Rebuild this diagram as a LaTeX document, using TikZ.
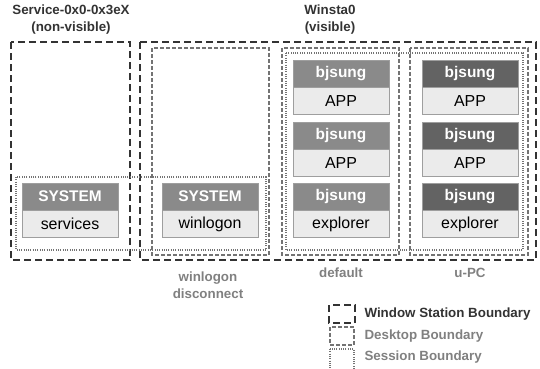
\documentclass[tikz,border=0pt]{standalone}
\usepackage{fontspec}
\setmainfont{Liberation Sans}
\usetikzlibrary{positioning}
\tikzset{
	wsta/.style={line width=0.7mm, color=black!80, dash pattern=on 7bp off 4bp},
	dsk/.style={line width=0.45mm, color=black!55, dash pattern=on 4bp off 2bp},
	sess/.style={line width=0.45mm, color=black!55, dash pattern=on 1bp off 1.3bp},
	hdr/.style={draw=black!38, fill=black!46, text=white, font=\bfseries\fontsize{15.5}{15.5}\selectfont, minimum width=96bp, minimum height=27bp, inner sep=0pt},
	hdrdark/.style={hdr, fill=black!61},
	proc/.style={draw=black!38, fill=black!8, text=black, font=\fontsize{16}{16}\selectfont, minimum width=96bp, minimum height=27bp, inner sep=0pt},
	lbl/.style={font=\bfseries\fontsize{13.4}{17}\selectfont, text=black!80, align=center},
	lblgray/.style={lbl, text=black!50}
}

\begin{document}
\begin{tikzpicture}[x=1bp, y=-1bp]
		%%%%% START %%%%%
		\useasboundingbox (0, 0) rectangle (540, 368);
		
		% window stations
		\draw[wsta] (11, 42) rectangle (130, 260);
		\draw[wsta] (140, 42) rectangle (536, 260);
		\node[lbl] (wsSvc) at (71, 20) {Service-0x0-0x3eX\\(non-visible)};
		\node[lbl] (wsWin) at (330, 20) {Winsta0\\(visible)};
		
		% desktops
		\draw[dsk] (152, 48) rectangle (269, 255);
		\draw[dsk] (282, 48) rectangle (399, 255);
		\draw[dsk] (410, 48) rectangle (528, 255);
		\node[lblgray] (dkLogon) at (208, 285) {winlogon\\disconnect};
		\node[lblgray] (dkDef) at (341, 273) {default};
		\node[lblgray] (dkUpc) at (470, 273) {u-PC};
		
		% sessions
		\draw[sess] (16, 177) rectangle (266, 250);
		\draw[sess] (286, 53) rectangle (523, 250);
		
		% session 0
		\node[hdr] (svcHead) at (70, 196.5) {SYSTEM};
		\node[proc, below=0pt of svcHead] (svcBody) {services};
		\node[hdr] (logHead) at (210, 196.5) {SYSTEM};
		\node[proc, below=0pt of logHead] (logBody) {winlogon};
		
		% session 1, default
		\node[hdr] (defHeadA) at (341, 73.5) {bjsung};
		\node[proc, below=0pt of defHeadA] (defBodyA) {APP};
		\node[hdr] (defHeadB) at (341, 135.5) {bjsung};
		\node[proc, below=0pt of defHeadB] (defBodyB) {APP};
		\node[hdr] (defHeadC) at (341, 196.5) {bjsung};
		\node[proc, below=0pt of defHeadC] (defBodyC) {explorer};
		
		% session 1, u-PC
		\node[hdrdark] (upcHeadA) at (470, 73.5) {bjsung};
		\node[proc, below=0pt of upcHeadA] (upcBodyA) {APP};
		\node[hdrdark] (upcHeadB) at (470, 135.5) {bjsung};
		\node[proc, below=0pt of upcHeadB] (upcBodyB) {APP};
		\node[hdrdark] (upcHeadC) at (470, 196.5) {bjsung};
		\node[proc, below=0pt of upcHeadC] (upcBodyC) {explorer};
		
		% legend
		\draw[wsta] (329, 305) rectangle (355, 323);
		\draw[dsk] (330, 327) rectangle (354, 345);
		\draw[sess] (330, 349) rectangle (354, 370);
		\node[lbl, anchor=west] (lgWs) at (361, 314) {Window Station Boundary};
		\node[lblgray, anchor=west] (lgDsk) at (361, 336) {Desktop Boundary};
		\node[lblgray, anchor=west] (lgSess) at (361, 357) {Session Boundary};
		
		%%%%% END %%%%%
	\end{tikzpicture}
\end{document}
